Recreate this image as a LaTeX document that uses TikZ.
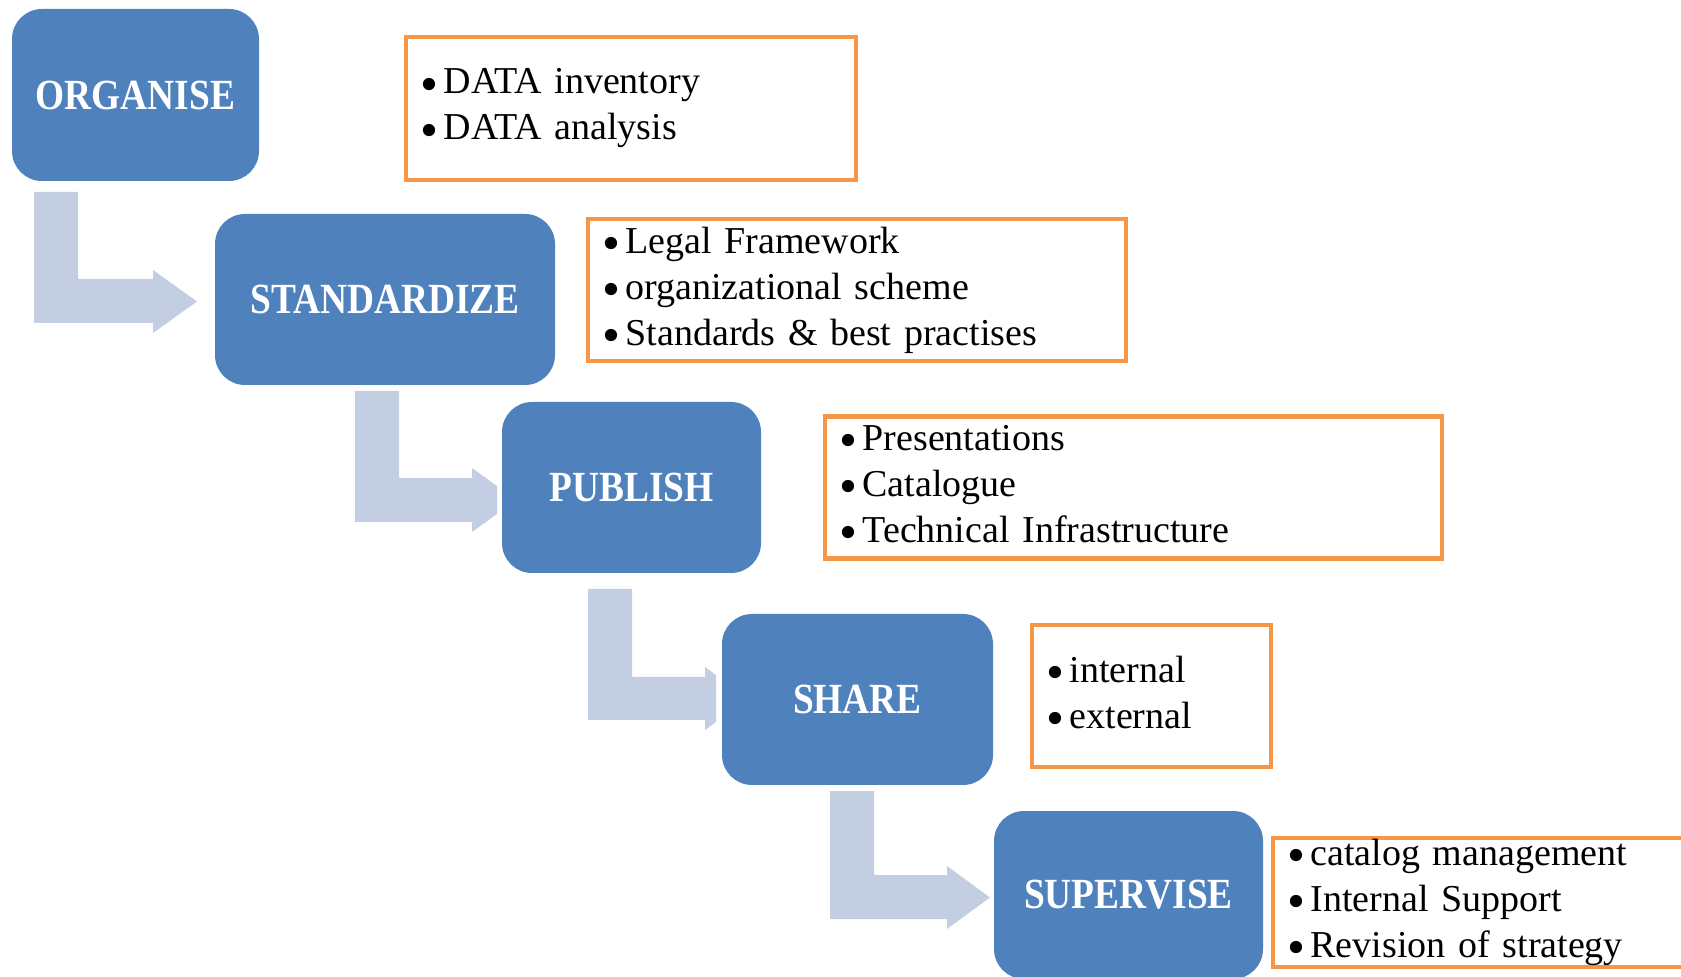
\documentclass[tikz,border=0pt]{standalone}
\usepackage{fontspec}
\setmainfont{Liberation Serif}[WordSpace=0.85]
\newfontfamily\labelfont{Liberation Serif}[FakeStretch=0.87]
\definecolor{stageblue}{HTML}{4F81BD}
\definecolor{boxorange}{HTML}{F79646}
\definecolor{arrowgrey}{RGB}{195,206,227}
\newcommand\bul{\makebox[0.62em][l]{\raisebox{-0.19em}{\scalebox{1.35}{\textbullet}}}}
\tikzset{
  stage/.style={rectangle, rounded corners=15pt, fill=stageblue, text=white, inner sep=0pt,
    font=\labelfont\bfseries\fontsize{21.5}{26}\selectfont},
  infobox/.style={rectangle, draw=boxorange, line width=2.25pt, fill=white, align=left,
    inner xsep=7pt, inner ysep=0pt, font=\fontsize{19}{23}\selectfont},
  bentarrow/.style={fill=arrowgrey, draw=none}
}
\begin{document}
\begin{tikzpicture}[x=0.5pt,y=-0.5pt]
\useasboundingbox (0,0) rectangle (1681,977);
\clip (0,0) rectangle (1681,977);
% bent arrows
\fill[bentarrow] (34,192) -- (78,192) -- (78,279) -- (153,279) -- (153,270) -- (197,301.5) -- (153,333) -- (153,323) -- (34,323) -- cycle;
\fill[bentarrow] (355,391) -- (399,391) -- (399,478) -- (472,478) -- (472,468) -- (497,486) -- (497,514) -- (472,532) -- (472,522) -- (355,522) -- cycle;
\fill[bentarrow] (588,589) -- (632,589) -- (632,677) -- (705,677) -- (705,667) -- (716,675) -- (716,722) -- (705,730) -- (705,720) -- (588,720) -- cycle;
\fill[bentarrow] (830,791) -- (874,791) -- (874,875) -- (947,875) -- (947,866) -- (990,897.5) -- (947,929) -- (947,919) -- (830,919) -- cycle;
% stages
\node[stage, minimum width=123.5pt, minimum height=86pt] (organise) at (135.5,95) {ORGANISE};
\node[stage, minimum width=170pt, minimum height=85.5pt] (standardize) at (385,299.5) {STANDARDIZE};
\node[stage, minimum width=129.5pt, minimum height=85.5pt] (publish) at (631.5,487.5) {PUBLISH};
\node[stage, minimum width=135.5pt, minimum height=85.5pt] (share) at (857.5,699.5) {SHARE};
\node[stage, minimum width=134.5pt, minimum height=84pt] (supervise) at (1128.5,895) {SUPERVISE};
% info boxes
\node[infobox, minimum width=225pt, minimum height=71.5pt, text width=211pt] (info1) at (631,108.5)
  {\bul DATA inventory\\\bul DATA analysis};
\node[infobox, minimum width=269pt, minimum height=71pt, text width=255pt] (info2) at (857,290)
  {\bul Legal Framework\\\bul organizational scheme\\\bul Standards \& best practises};
\node[infobox, minimum width=308.5pt, minimum height=71pt, text width=294.5pt] (info3) at (1133.5,487.5)
  {\bul Presentations\\\bul Catalogue\\\bul Technical Infrastructure};
\node[infobox, minimum width=119.5pt, minimum height=71pt, text width=105.5pt] (info4) at (1151.5,696)
  {\bul internal\\\bul external};
\node[infobox, minimum width=213.5pt, minimum height=64.5pt, text width=199.5pt] (info5) at (1486.5,902.5)
  {\bul catalog management\\\bul Internal Support\\\bul Revision of strategy};
\end{tikzpicture}
\end{document}
